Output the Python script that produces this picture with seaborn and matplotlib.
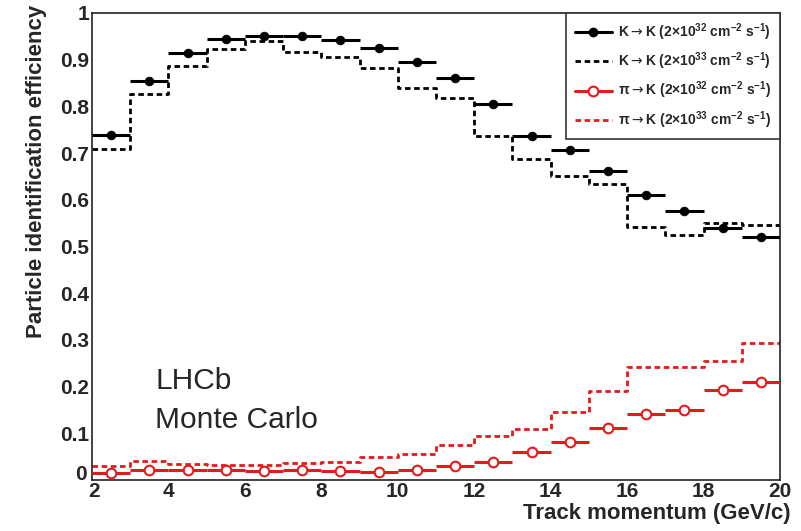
import numpy as np
import matplotlib
matplotlib.use("Agg")
import matplotlib.pyplot as plt
from matplotlib.lines import Line2D
from matplotlib.ticker import MultipleLocator, FixedLocator, FixedFormatter
import matplotlib.transforms as mtransforms
import seaborn as sns

# ---------------- data ----------------
bin_edges = [2, 3, 4, 5, 6, 7, 8, 9, 10, 11, 12, 13, 14, 15, 16, 17, 18, 19, 20]
bin_centers = [2.5, 3.5, 4.5, 5.5, 6.5, 7.5, 8.5, 9.5, 10.5, 11.5,
               12.5, 13.5, 14.5, 15.5, 16.5, 17.5, 18.5, 19.5]
kk_low = [0.739, 0.855, 0.914, 0.944, 0.951, 0.951, 0.943, 0.926, 0.895, 0.861,
          0.805, 0.737, 0.706, 0.662, 0.611, 0.576, 0.539, 0.520]
kk_high = [0.709, 0.826, 0.886, 0.922, 0.940, 0.917, 0.905, 0.883, 0.839, 0.819,
           0.737, 0.687, 0.650, 0.634, 0.542, 0.525, 0.551, 0.545]
pik_low = [0.016, 0.021, 0.021, 0.022, 0.019, 0.021, 0.019, 0.018, 0.021, 0.031,
           0.039, 0.060, 0.081, 0.111, 0.141, 0.149, 0.193, 0.209]
pik_high = [0.029, 0.040, 0.035, 0.033, 0.033, 0.037, 0.038, 0.050, 0.056, 0.076,
            0.095, 0.109, 0.146, 0.191, 0.241, 0.243, 0.255, 0.293]
bin_halfwidth = 0.5

series_labels = [
    "K$\\mathrm{\\rightarrow}$K (2×10$^{32}$ cm$^{-2}$ s$^{-1}$)",
    "K$\\mathrm{\\rightarrow}$K (2×10$^{33}$ cm$^{-2}$ s$^{-1}$)",
    "π$\\mathrm{\\rightarrow}$K (2×10$^{32}$ cm$^{-2}$ s$^{-1}$)",
    "π$\\mathrm{\\rightarrow}$K (2×10$^{33}$ cm$^{-2}$ s$^{-1}$)",
]
xticks = [2, 4, 6, 8, 10, 12, 14, 16, 18, 20]
xtick_labels = ["2", "4", "6", "8", "10", "12", "14", "16", "18", "20"]
yticks = [0, 0.1, 0.2, 0.3, 0.4, 0.5, 0.6, 0.7, 0.8, 0.9, 1.0]
ytick_labels = ["0", "0.1", "0.2", "0.3", "0.4", "0.5", "0.6", "0.7", "0.8", "0.9", "1"]
xlabel = "Track momentum (GeV/c)"
ylabel = "Particle identification efficiency"
annot_lines = ["LHCb", "Monte Carlo"]

RED = "#e41a1c"
BLACK = "#000000"

# ---------------- style ----------------
sns.set_style("white")
plt.rcParams["font.family"] = ["Liberation Sans", "DejaVu Sans"]
plt.rcParams["mathtext.default"] = "regular"
plt.rcParams["axes.unicode_minus"] = True

fig = plt.figure(figsize=(8.01, 5.31), dpi=100)
ax = fig.add_axes([92 / 801, 1 - 480 / 531, 688 / 801, 467 / 531])

dash = (0, (2.0, 1.3))

# dashed histograms (step)
sns.lineplot(x=bin_edges, y=kk_high + [kk_high[-1]], drawstyle="steps-post",
             color=BLACK, lw=2, linestyle=dash, estimator=None, sort=False,
             ax=ax, zorder=2)
sns.lineplot(x=bin_edges, y=pik_high + [pik_high[-1]], drawstyle="steps-post",
             color=RED, lw=2, linestyle=dash, estimator=None, sort=False,
             ax=ax, zorder=2)

# points with horizontal bin-width error bars
ax.errorbar(bin_centers, kk_low, xerr=bin_halfwidth, fmt="none",
            ecolor=BLACK, elinewidth=2.2, zorder=3)
ax.errorbar(bin_centers, pik_low, xerr=bin_halfwidth, fmt="none",
            ecolor=RED, elinewidth=2.2, zorder=3)
sns.scatterplot(x=bin_centers, y=kk_low, color=BLACK, edgecolor=BLACK,
                s=40, marker="o", ax=ax, zorder=4, linewidth=0.5)
sns.scatterplot(x=bin_centers, y=pik_low, color="white", edgecolor=RED,
                s=48, marker="o", ax=ax, zorder=4, linewidth=1.5)

# ---------------- axes ----------------
ax.set_xlim(2, 20)
ax.set_ylim(0, 1)
ax.xaxis.set_major_locator(FixedLocator(xticks))
ax.xaxis.set_major_formatter(FixedFormatter(xtick_labels))
ax.yaxis.set_major_locator(FixedLocator(yticks))
ax.yaxis.set_major_formatter(FixedFormatter(ytick_labels))
ax.xaxis.set_minor_locator(MultipleLocator(0.5))
ax.yaxis.set_minor_locator(MultipleLocator(0.02))
ax.tick_params(axis="both", which="both", direction="in", top=False, right=False,
               color=BLACK, width=1.1)
ax.tick_params(axis="x", which="major", length=10.8, pad=1.5, labelsize=15)
ax.tick_params(axis="x", which="minor", length=5.4)
ax.tick_params(axis="y", which="major", length=14.9, pad=2, labelsize=15)
ax.tick_params(axis="y", which="minor", length=7.6)
for lab in ax.get_xticklabels() + ax.get_yticklabels():
    lab.set_fontweight("bold")
for sp in ax.spines.values():
    sp.set_visible(True)
    sp.set_color("#222222")
    sp.set_linewidth(1.2)

# nudge the "0" y label up and the "2" x label right (as in the reference)
ytick0 = ax.yaxis.get_major_ticks()[0].label1
ytick0.set_transform(ytick0.get_transform() +
                     mtransforms.ScaledTranslation(-2 / 100, 8 / 100, fig.dpi_scale_trans))
xtick0 = ax.xaxis.get_major_ticks()[0].label1
xtick0.set_transform(xtick0.get_transform() +
                     mtransforms.ScaledTranslation(2 / 100, 0, fig.dpi_scale_trans))

ax.set_xlabel(xlabel, loc="right", fontsize=16, fontweight="bold")
ax.xaxis.set_label_coords((791 - 92) / 688, (480 - 503) / 467)
ax.set_ylabel(ylabel, loc="top", fontsize=16, fontweight="bold")
ax.yaxis.set_label_coords((47 - 92) / 688, (480 - 5) / 467)

ax.text((155 - 92) / 688, (480 - 389) / 467, annot_lines[0], transform=ax.transAxes,
        fontsize=21.5, va="baseline", ha="left")
ax.text((155 - 92) / 688, (480 - 428) / 467, annot_lines[1], transform=ax.transAxes,
        fontsize=21.5, va="baseline", ha="left")

handles = [
    Line2D([], [], color=BLACK, lw=2.2, marker="o", ms=6, mfc=BLACK, mec=BLACK),
    Line2D([], [], color=BLACK, lw=2, linestyle=dash),
    Line2D([], [], color=RED, lw=2.2, marker="o", ms=7, mfc="white", mec=RED, mew=1.5),
    Line2D([], [], color=RED, lw=2, linestyle=dash),
]
leg = ax.legend(handles, series_labels, loc="upper right", bbox_to_anchor=(1, 1),
                borderaxespad=0, fancybox=False, framealpha=1, edgecolor="#333333",
                prop={"size": 10, "weight": "bold"}, handlelength=2.7,
                handletextpad=0.45, labelspacing=0.55, borderpad=0.6)
leg.get_frame().set_linewidth(1.2)

fig.savefig("out.png", dpi=100)
